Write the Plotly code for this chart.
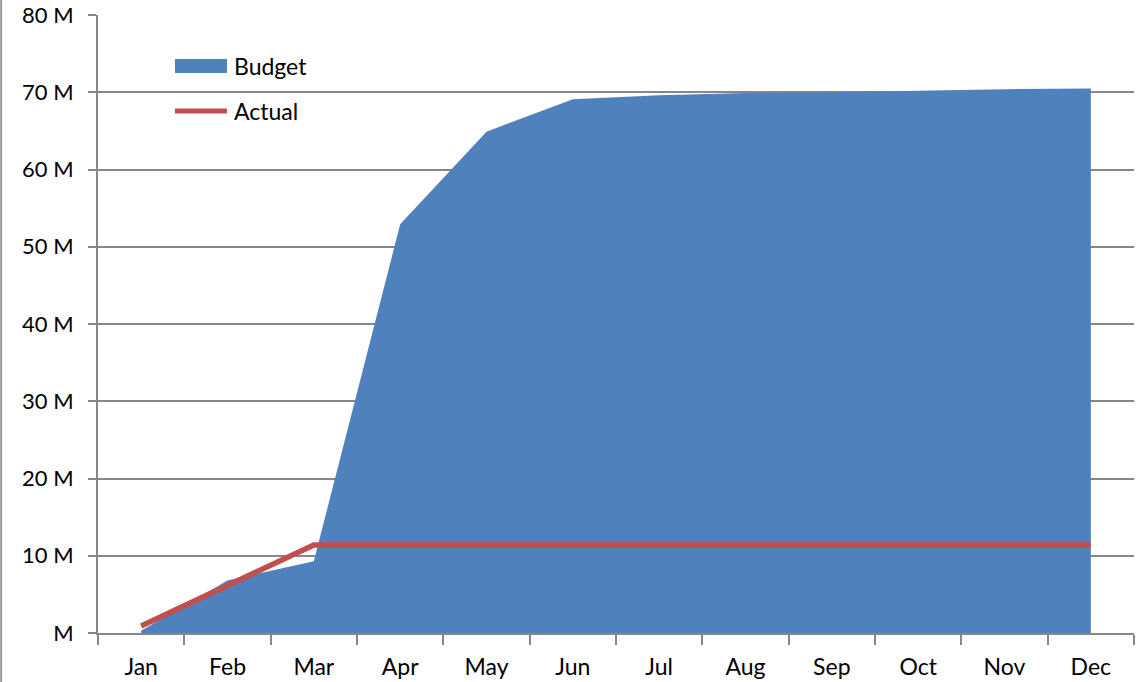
import plotly.graph_objects as go

months = ["Jan", "Feb", "Mar", "Apr", "May", "Jun", "Jul", "Aug", "Sep", "Oct", "Nov", "Dec"]
budget = [0.3, 6.8, 9.3, 52.9, 64.9, 69.1, 69.6, 69.9, 70.0, 70.2, 70.4, 70.5]
actual = [0.9, 6.1, 11.4, 11.4, 11.4, 11.4, 11.4, 11.4, 11.4, 11.4, 11.4, 11.4]
y_ticks = [0, 10, 20, 30, 40, 50, 60, 70, 80]
y_labels = ["M" if v == 0 else f"{v} M" for v in y_ticks]

FONT = "Lato, Carlito, Calibri, sans-serif"
GRID = "#878787"
BLUE = "#4F81BD"
RED = "#C0504D"

fig = go.Figure()
fig.add_trace(go.Scatter(
    x=months, y=budget, name="Budget", mode="lines",
    line=dict(width=0, color=BLUE), fill="tozeroy", fillcolor=BLUE,
))
fig.add_trace(go.Scatter(
    x=months, y=actual, name="Actual", mode="lines",
    line=dict(width=5.5, color=RED),
))

# legend drawn manually (paper coordinates)
shapes = [
    dict(type="rect", xref="paper", yref="paper", x0=0.0743, x1=0.1245,
         y0=0.9061, y1=0.9288, fillcolor=BLUE, line=dict(width=0)),
    dict(type="line", xref="paper", yref="paper", x0=0.0743, x1=0.1245,
         y0=0.8447, y1=0.8447, line=dict(color=RED, width=5)),
    dict(type="line", xref="paper", yref="paper",
         x0=-0.0935, x1=-0.0935, y0=-0.1, y1=1.05,
         line=dict(color="#9a9a9a", width=2)),
]
annotations = [
    dict(text="Budget", xref="paper", yref="paper", x=0.1293, y=0.9175,
         xanchor="left", yanchor="middle", showarrow=False,
         font=dict(size=23, family=FONT, color="black")),
    dict(text="Actual", xref="paper", yref="paper", x=0.1293, y=0.8447,
         xanchor="left", yanchor="middle", showarrow=False,
         font=dict(size=23, family=FONT, color="black")),
]

fig.update_layout(
    width=1136, height=682,
    margin=dict(l=98, r=2, t=15, b=49),
    paper_bgcolor="white", plot_bgcolor="white",
    font=dict(family=FONT, size=22, color="#000000"),
    showlegend=False,
    xaxis=dict(
        type="category", categoryorder="array", categoryarray=months,
        range=[-0.5, 11.5], tickson="boundaries", ticks="outside", ticklen=10,
        tickwidth=2, tickcolor=GRID, showline=True, linecolor=GRID, linewidth=2,
        showgrid=False, zeroline=False, tickfont=dict(size=23),
        ticklabelstandoff=12,
    ),
    yaxis=dict(
        range=[0, 80], tickvals=y_ticks, ticktext=y_labels,
        ticks="outside", ticklen=8, tickwidth=2, tickcolor=GRID,
        showline=True, linecolor=GRID, linewidth=2,
        showgrid=True, gridcolor=GRID, gridwidth=2, zeroline=False,
        tickfont=dict(size=22), ticklabelstandoff=10,
    ),
    shapes=shapes,
    annotations=annotations,
)

fig.write_html("out.html", config={"displayModeBar": False},
               post_script="document.body.style.margin='0';")
